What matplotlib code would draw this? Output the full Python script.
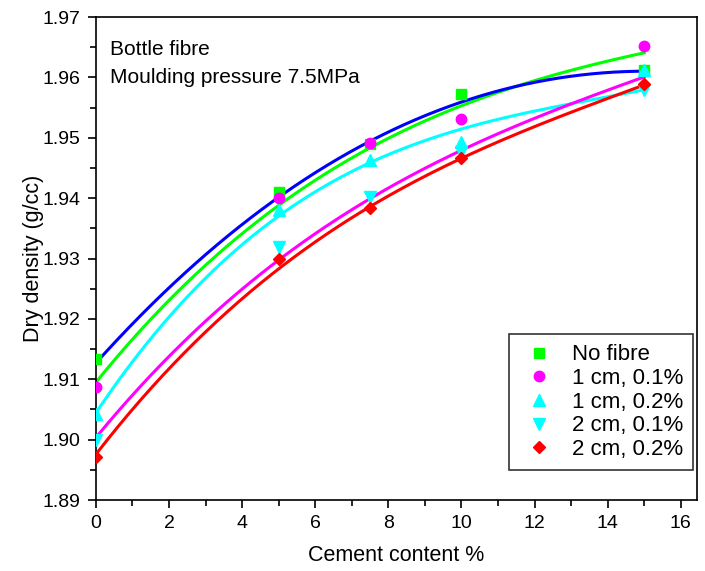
import numpy as np
import matplotlib
matplotlib.use("Agg")
import matplotlib.pyplot as plt
from matplotlib.ticker import MultipleLocator

plt.rcParams["font.family"] = ["Liberation Sans", "DejaVu Sans"]

# measured points
cement = [0, 5, 7.5, 10, 15]
no_fibre = [1.9134, 1.941, 1.949, 1.9572, 1.9612]
cm1_01 = [1.9088, 1.940, 1.9491, 1.9531, 1.9652]
cm1_02 = [1.9043, 1.938, 1.9463, 1.9493, 1.9612]
cm2_01 = [1.8999, 1.932, 1.9402, 1.9477, 1.958]
cm2_02 = [1.8971, 1.930, 1.9383, 1.9467, 1.959]

# fitted curves
fit_x = [0, 2.5, 5, 7.5, 10, 12.5, 15]
fit_blue = [1.9130, 1.9272, 1.9404, 1.9500, 1.9559, 1.9592, 1.9613]
fit_green = [1.9095, 1.9260, 1.9390, 1.9481, 1.9555, 1.9603, 1.9641]
fit_cyan = [1.9043, 1.9240, 1.9369, 1.9456, 1.9517, 1.9551, 1.9579]
fit_magenta = [1.9004, 1.9166, 1.9299, 1.9400, 1.9478, 1.9545, 1.9601]
fit_red = [1.8975, 1.9150, 1.9284, 1.9383, 1.9467, 1.9532, 1.9587]

fig = plt.figure(figsize=(7.05, 5.71), dpi=100)
ax = fig.add_axes([0.136, 0.1243, 0.853, 0.8457])

# curves (smoothed through the read values)
xs = np.linspace(0, 15, 200)
for vals, col in [(fit_green, "#00ff00"), (fit_blue, "#0000ff"), (fit_cyan, "#00ffff"),
                  (fit_magenta, "#ff00ff"), (fit_red, "#ff0000")]:
    c = np.polyfit(fit_x, vals, 3)
    ax.plot(xs, np.polyval(c, xs), color=col, lw=2.2, zorder=2)

series = [
    (no_fibre, "s", "#00ff00", "No fibre", 7),
    (cm1_01, "o", "#ff00ff", "1 cm, 0.1%", 7.5),
    (cm1_02, "^", "#00ffff", "1 cm, 0.2%", 8),
    (cm2_01, "v", "#00ffff", "2 cm, 0.1%", 8),
    (cm2_02, "D", "#ff0000", "2 cm, 0.2%", 6.5),
]
for vals, mk, col, lab, ms in series:
    ax.plot(cement, vals, ls="none", marker=mk, color=col, ms=ms, mec=col, label=lab, zorder=3)

ax.set_xlim(0, 16.45)
ax.set_ylim(1.89, 1.97)
ax.xaxis.set_major_locator(MultipleLocator(2))
ax.xaxis.set_minor_locator(MultipleLocator(1))
ax.yaxis.set_major_locator(MultipleLocator(0.01))
ax.yaxis.set_minor_locator(MultipleLocator(0.005))
ax.yaxis.set_major_formatter(plt.FormatStrFormatter("%.2f"))
ax.tick_params(which="both", direction="out", width=1.2, labelsize=14)
ax.tick_params(which="major", length=6, pad=5)
ax.tick_params(which="minor", length=4)
ax.tick_params(top=False, right=False)
for sp in ax.spines.values():
    sp.set_linewidth(1.2)

ax.set_xlabel("Cement content %", fontsize=15.5, labelpad=9)
ax.set_ylabel("Dry density (g/cc)", fontsize=15.5, labelpad=-1)

ax.text(0.023, 0.952, "Bottle fibre\nMoulding pressure 7.5MPa", transform=ax.transAxes,
        fontsize=15, va="top", ha="left", linespacing=1.55)

leg = ax.legend(loc="lower right", bbox_to_anchor=(0.993, 0.062), fontsize=16, frameon=True,
                fancybox=False, edgecolor="black", handletextpad=0.55, borderpad=0.45,
                labelspacing=0.12, handlelength=1.8, borderaxespad=0)
leg.get_frame().set_linewidth(1.2)

fig.savefig("out.png", dpi=100)
